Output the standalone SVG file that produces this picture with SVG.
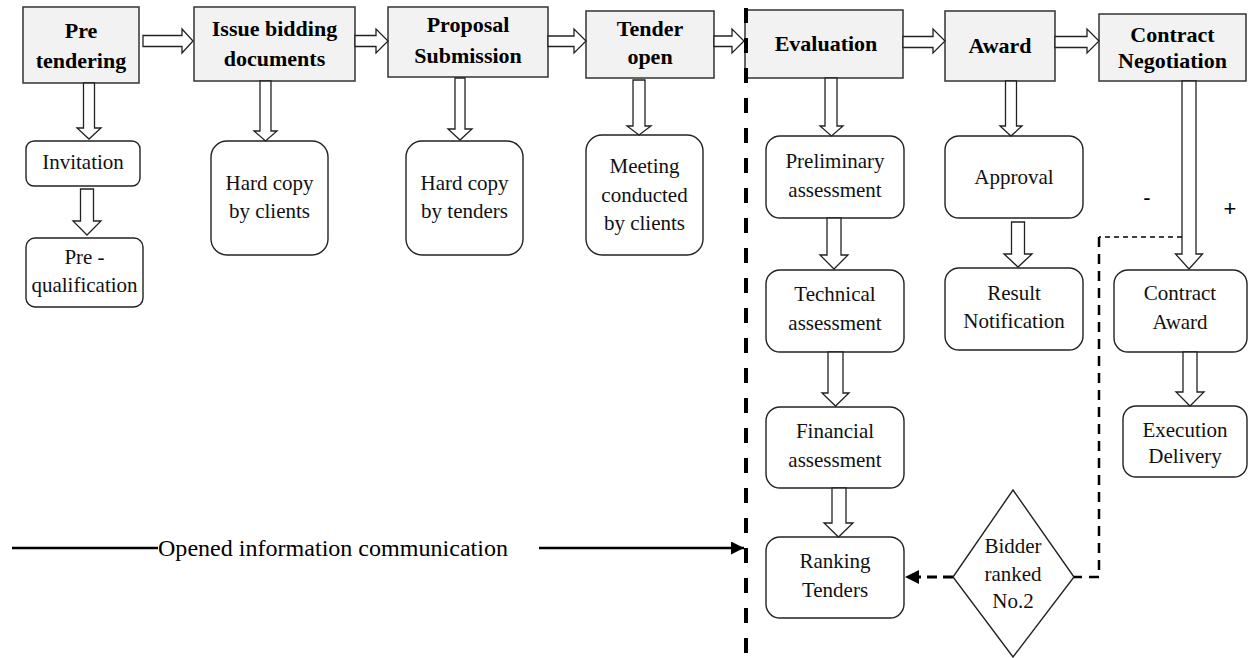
<svg xmlns="http://www.w3.org/2000/svg" width="1248" height="658" viewBox="0 0 1248 658">
  <defs>
    <marker id="solidHead" viewBox="0 0 10 10" refX="10" refY="5" markerWidth="13" markerHeight="13" markerUnits="userSpaceOnUse" orient="auto">
      <path d="M0,0 L10,5 L0,10 Z" fill="#000"/>
    </marker>
    <marker id="dashHead" viewBox="0 0 10 10" refX="10" refY="5" markerWidth="15" markerHeight="14" markerUnits="userSpaceOnUse" orient="auto">
      <path d="M0,0 L10,5 L0,10 Z" fill="#000"/>
    </marker>
  </defs>
  <style>
    text { font-family: 'Times New Roman', 'Liberation Serif', 'DejaVu Serif', serif; }
    .stage rect { fill: #f2f2f2; stroke: #333; stroke-width: 1.5; }
    .stage text { font-weight: bold; font-size: 22px; fill: #000; text-anchor: middle; }
    .step rect, .step polygon { fill: #fff; stroke: #222; stroke-width: 1.4; }
    .step text { font-size: 21px; fill: #111; text-anchor: middle; }
    .block { fill: #fff; stroke: #222; stroke-width: 1.3; stroke-linejoin: miter; }
    text.sign { font-family: 'Liberation Sans', Arial, sans-serif; font-size: 22px; fill: #000; text-anchor: middle; }
    .note { font-size: 24px; fill: #000; }
  </style>

  <rect width="1248" height="658" fill="#fff"/>

  <!-- main stages -->
  <g id="pre-tendering" class="stage">
    <rect x="23" y="7" width="116" height="76"/>
    <text x="81" y="38">Pre</text>
    <text x="81" y="68">tendering</text>
  </g>
  <g id="issue-bidding" class="stage">
    <rect x="194" y="7" width="161" height="74"/>
    <text x="274.5" y="36">Issue bidding</text>
    <text x="274.5" y="66">documents</text>
  </g>
  <g id="proposal-submission" class="stage">
    <rect x="388" y="7" width="160" height="70"/>
    <text x="468" y="32">Proposal</text>
    <text x="468" y="63">Submission</text>
  </g>
  <g id="tender-open" class="stage">
    <rect x="586" y="11" width="128" height="67"/>
    <text x="650" y="36">Tender</text>
    <text x="650" y="64">open</text>
  </g>
  <g id="evaluation" class="stage">
    <rect x="745" y="10" width="158" height="68"/>
    <text x="826" y="51">Evaluation</text>
  </g>
  <g id="award" class="stage">
    <rect x="945" y="11" width="110" height="70"/>
    <text x="1000" y="53">Award</text>
  </g>
  <g id="contract-negotiation" class="stage">
    <rect x="1099" y="14" width="147" height="67"/>
    <text x="1172.5" y="42">Contract</text>
    <text x="1172.5" y="68">Negotiation</text>
  </g>

  <!-- detail steps -->
  <g id="invitation" class="step">
    <rect x="26" y="141" width="114" height="45" rx="8"/>
    <text x="83" y="169">Invitation</text>
  </g>
  <g id="pre-qualification" class="step">
    <rect x="26" y="238" width="117" height="69" rx="9"/>
    <text x="84.5" y="264">Pre -</text>
    <text x="84.5" y="292">qualification</text>
  </g>
  <g id="hard-copy-clients" class="step">
    <rect x="211" y="141" width="117" height="114" rx="16"/>
    <text x="269.5" y="190">Hard copy</text>
    <text x="269.5" y="218">by clients</text>
  </g>
  <g id="hard-copy-tenders" class="step">
    <rect x="406" y="141" width="117" height="114" rx="16"/>
    <text x="464.5" y="190">Hard copy</text>
    <text x="464.5" y="218">by tenders</text>
  </g>
  <g id="meeting" class="step">
    <rect x="586" y="135" width="117" height="120" rx="16"/>
    <text x="644.5" y="173">Meeting</text>
    <text x="644.5" y="202">conducted</text>
    <text x="644.5" y="230">by clients</text>
  </g>
  <g id="preliminary" class="step">
    <rect x="766" y="136" width="138" height="82" rx="14"/>
    <text x="835" y="168">Preliminary</text>
    <text x="835" y="197">assessment</text>
  </g>
  <g id="technical" class="step">
    <rect x="766" y="270" width="138" height="82" rx="14"/>
    <text x="835" y="301">Technical</text>
    <text x="835" y="330">assessment</text>
  </g>
  <g id="financial" class="step">
    <rect x="766" y="407" width="138" height="81" rx="14"/>
    <text x="835" y="438">Financial</text>
    <text x="835" y="467">assessment</text>
  </g>
  <g id="ranking" class="step">
    <rect x="766" y="537" width="138" height="81" rx="14"/>
    <text x="835" y="568">Ranking</text>
    <text x="835" y="597">Tenders</text>
  </g>
  <g id="approval" class="step">
    <rect x="945" y="136" width="138" height="82" rx="14"/>
    <text x="1014" y="184">Approval</text>
  </g>
  <g id="result-notification" class="step">
    <rect x="945" y="268" width="138" height="82" rx="14"/>
    <text x="1014" y="300">Result</text>
    <text x="1014" y="328">Notification</text>
  </g>
  <g id="contract-award" class="step">
    <rect x="1114" y="270" width="133" height="82" rx="14"/>
    <text x="1180" y="300">Contract</text>
    <text x="1180" y="329">Award</text>
  </g>
  <g id="execution-delivery" class="step">
    <rect x="1123" y="406" width="124" height="71" rx="13"/>
    <text x="1185" y="437">Execution</text>
    <text x="1185" y="463">Delivery</text>
  </g>
  <g id="bidder-ranked" class="step">
    <polygon points="1013,490 1074,577 1013,657 953,577"/>
    <text x="1013" y="553">Bidder</text>
    <text x="1013" y="581">ranked</text>
    <text x="1013" y="608">No.2</text>
  </g>

  <!-- connectors -->
  <g id="connectors">
    <!-- stage-to-stage block arrows -->
    <polygon class="block" points="143,35.5 182,35.5 182,29 193,41 182,53 182,46.5 143,46.5"/>
    <polygon class="block" points="355,35.5 376,35.5 376,29 388,41 376,53 376,46.5 355,46.5"/>
    <polygon class="block" points="548,36 574,36 574,29 586,41 574,53 574,46.5 548,46.5"/>
    <polygon class="block" points="714,36 732,36 732,29 744,41 732,53 732,46.5 714,46.5"/>
    <polygon class="block" points="903,36.5 933,36.5 933,29 945,41 933,53 933,47.5 903,47.5"/>
    <polygon class="block" points="1055,36.5 1087,36.5 1087,29 1099,41 1087,53 1087,47.5 1055,47.5"/>

    <!-- downward block arrows -->
    <polygon class="block" points="83.5,83 94.5,83 94.5,128 101,128 89,139 77,128 83.5,128"/>
    <polygon class="block" points="80.5,189 93.5,189 93.5,221 101,221 87,235 73,221 80.5,221"/>
    <polygon class="block" points="260,81 271,81 271,131 277,131 265.5,141 254,131 260,131"/>
    <polygon class="block" points="455,78 465,78 465,129 472,129 460,140 448,129 455,129"/>
    <polygon class="block" points="633,80 645,80 645,126 651,126 639,135 627,126 633,126"/>
    <polygon class="block" points="825,78 837,78 837,126 843,126 831.5,136 820,126 825,126"/>
    <polygon class="block" points="827,218 841,218 841,255 848,255 834,269 820,255 827,255"/>
    <polygon class="block" points="828,352 843,352 843,393 849,393 835.5,406 822,393 828,393"/>
    <polygon class="block" points="832,488 846,488 846,523 853,523 838.5,537 824,523 832,523"/>
    <polygon class="block" points="1005.5,81 1016.5,81 1016.5,126 1022,126 1011,136 1000,126 1005.5,126"/>
    <polygon class="block" points="1011.5,222 1024.5,222 1024.5,254 1032,254 1018,267 1004,254 1011.5,254"/>
    <polygon class="block" points="1182,81 1196,81 1196,254 1202.5,254 1189,269 1175.5,254 1182,254"/>
    <polygon class="block" points="1183,352 1197,352 1197,392 1204,392 1190,406 1176,392 1183,392"/>

    <!-- boundary of the opened-information phase -->
    <line x1="746" y1="8" x2="746" y2="656" stroke="#000" stroke-width="4" stroke-dasharray="15 15"/>

    <!-- opened information communication -->
    <line x1="12" y1="548" x2="158" y2="548" stroke="#000" stroke-width="2.5"/>
    <text class="note" x="158" y="556" textLength="350" lengthAdjust="spacingAndGlyphs">Opened information communication</text>
    <line x1="539" y1="548" x2="744" y2="548" stroke="#000" stroke-width="2.5" marker-end="url(#solidHead)"/>

    <!-- loop back when the winning bidder declines -->
    <path d="M1182,237 H1099" fill="none" stroke="#000" stroke-width="1.3" stroke-dasharray="5 4"/>
    <path d="M1099,237 V577 H1074" fill="none" stroke="#000" stroke-width="2.5" stroke-dasharray="10 7"/>
    <line x1="953" y1="577" x2="905" y2="577" stroke="#000" stroke-width="3" stroke-dasharray="10 6" marker-end="url(#dashHead)"/>

    <text class="sign" x="1147" y="205">-</text>
    <text class="sign" x="1230" y="216">+</text>
  </g>
</svg>
